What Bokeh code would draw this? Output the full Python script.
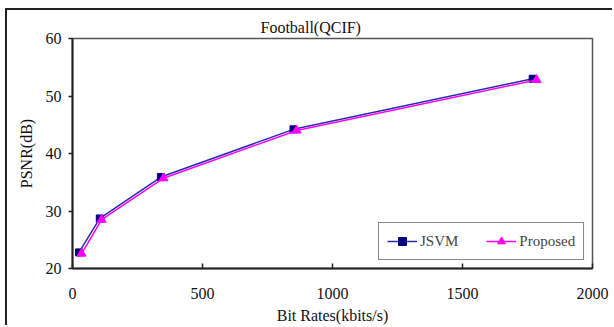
from bokeh.plotting import figure
from bokeh.models import Range1d, Legend, LegendItem, FixedTicker
from bokeh.embed import file_html
from bokeh.resources import INLINE

jsvm_rate = [25, 105, 340, 850, 1770]
jsvm_psnr = [22.8, 28.7, 35.9, 44.2, 53.0]
prop_rate = [35, 112, 350, 862, 1785]
prop_psnr = [22.6, 28.5, 35.7, 44.0, 52.8]
x_ticks = [0, 500, 1000, 1500, 2000]
y_ticks = [20, 30, 40, 50, 60]

FONT = "Liberation Serif"

p = figure(width=607, height=317, output_backend="svg", toolbar_location=None,
           x_range=Range1d(0, 2000), y_range=Range1d(20, 60),
           min_border_left=65, min_border_right=22, min_border_top=28, min_border_bottom=59)
p.styles = {"border-left": "2px solid #222", "border-top": "2px solid #222",
            "margin-left": "5px", "margin-top": "8px"}
p.grid.visible = False
p.outline_line_color = "#555555"
p.outline_line_width = 1.5

p.title.text = "Football(QCIF)"
p.title.align = "left"
p.title.offset = 188
p.title.text_font = FONT
p.title.text_font_size = "16px"
p.title.text_font_style = "normal"
p.title.text_color = "#111111"
p.title.standoff = 5

p.xaxis.ticker = FixedTicker(ticks=x_ticks)
p.yaxis.ticker = FixedTicker(ticks=y_ticks)
p.xaxis.minor_tick_line_color = None
p.yaxis.minor_tick_line_color = None
for ax in (p.xaxis[0], p.yaxis[0]):
    ax.axis_line_color = "#222222"
    ax.axis_line_width = 2
    ax.major_tick_line_color = "#222222"
    ax.major_tick_line_width = 1.5
    ax.major_label_text_font = FONT
    ax.major_label_text_font_size = "16px"
    ax.major_label_text_color = "#111111"
    ax.axis_label_text_font = FONT
    ax.axis_label_text_font_size = "16px"
    ax.axis_label_text_font_style = "normal"
    ax.axis_label_text_color = "#111111"
p.xaxis.major_tick_in = 5
p.xaxis.major_tick_out = 0
p.xaxis.major_label_standoff = 19
p.yaxis.major_tick_in = 0
p.yaxis.major_tick_out = 4
p.yaxis.major_label_standoff = 7
p.xaxis.axis_label = "Bit Rates(kbits/s)"
p.yaxis.axis_label = "PSNR(dB)"
p.xaxis.axis_label_standoff = 5
p.yaxis.axis_label_standoff = 8

l1 = p.line(jsvm_rate, jsvm_psnr, line_color="#2a2aa8", line_width=1.5)
m1 = p.scatter(jsvm_rate, jsvm_psnr, marker="square", size=7, fill_color="#000080", line_color="#000080")
l2 = p.line(prop_rate, prop_psnr, line_color="#ff00ff", line_width=1.5)
m2 = p.scatter(prop_rate, prop_psnr, marker="triangle", size=9, fill_color="#ff00ff", line_color="#ff00ff")

legend = Legend(items=[LegendItem(label="JSVM", renderers=[l1, m1]),
                       LegendItem(label="Proposed", renderers=[l2, m2])],
                orientation="horizontal", location=(306, 8),
                label_text_font=FONT, label_text_font_size="15px",
                glyph_width=30, label_standoff=3, spacing=28, padding=8,
                border_line_color="#111111", border_line_width=1.5,
                background_fill_alpha=1.0, margin=0)
p.add_layout(legend, "center")

open("out.html", "w").write(file_html(p, INLINE))
